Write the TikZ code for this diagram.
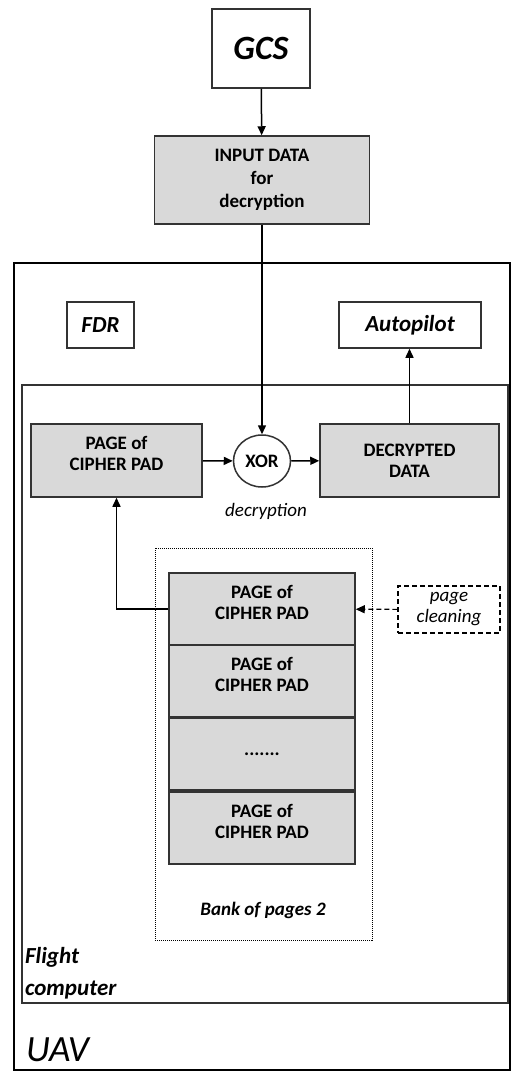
\documentclass[tikz,border=0pt]{standalone}
\usepackage{fontspec}
\setmainfont{Carlito}
\usetikzlibrary{arrows.meta,shapes.geometric}
\definecolor{boxgray}{HTML}{D9D9D9}
\definecolor{edge}{HTML}{333333}

\begin{document}
\begin{tikzpicture}[x=1pt,y=-1pt,line width=1.5pt,
        blk/.style={draw=edge, fill=boxgray, line width=1.5pt, align=center,
                        font=\bfseries\fontsize{19}{21}\selectfont},
        wht/.style={draw=edge, line width=1.5pt,
                        font=\bfseries\itshape\fontsize{23}{26}\selectfont},
        pg/.style={blk, minimum width=186, minimum height=72,
                        label={[font=\bfseries\fontsize{19}{21}\selectfont,
                        align=center, yshift=7]center:PAGE of\\CIPHER PAD}},
        arr/.style={-{Triangle[length=9pt,width=8pt]}},
        dsh/.style={dash pattern=on 5pt off 3pt, line width=1.2pt},
        tag/.style={anchor=west, font=\bfseries\itshape\fontsize{23}{26}\selectfont}]
    \useasboundingbox (0,0) rectangle (511,1071);

    % ground side
    \node[wht, minimum width=98, minimum height=79,
        font=\bfseries\itshape\fontsize{34}{38}\selectfont] (gcs) at (261,48.5) {GCS};
    \node[blk, minimum width=215, minimum height=88,
        font=\bfseries\fontsize{19}{23}\selectfont] (inp) at (262,180)
        {INPUT DATA\\for\\decryption};

    % UAV and flight computer
    \draw[line width=2.5pt] (14,263) rectangle (510,1070);
    \node[anchor=west, font=\itshape\fontsize{37}{40}\selectfont] (uav) at (22,1050) {UAV};
    \node[wht, minimum width=67, minimum height=46] (fdr) at (100.5,325) {FDR};
    \node[wht, minimum width=142, minimum height=46] (auto) at (410,325) {Autopilot};
    \draw[draw=edge, line width=1.5pt] (22,385) rectangle (508,1003);
    \node[tag] (fc1) at (21,957) {Flight};
    \node[tag] (fc2) at (21,990) {computer};

    % decryption
    \node[blk, minimum width=171, minimum height=73, label={[font=\bfseries\fontsize{19}{21}\selectfont,
        align=center, yshift=7]center:PAGE of\\CIPHER PAD}] (pad) at (116.5,460.5) {};
    \node[ellipse, draw=edge, line width=1.5pt, minimum width=57, minimum height=52,
        inner sep=0pt, font=\bfseries\fontsize{19}{21}\selectfont] (xor) at (262,461) {XOR};
    \node[blk, minimum width=179, minimum height=73] (dec) at (409.5,460.5) {DECRYPTED\\DATA};
    \node[font=\itshape\fontsize{19}{21}\selectfont] (decr) at (266,511) {decryption};

    % bank of pages
    \draw[dash pattern=on 1pt off 1pt, line width=1pt] (155,548) rectangle (372,940);
    \node[pg] (p1) at (262,609) {};
    \node[pg] (p2) at (262,681) {};
    \node[blk, minimum width=186, minimum height=72] (p3) at (262,754) {.......};
    \node[pg] (p4) at (262,828) {};
    \node[font=\bfseries\itshape\fontsize{19}{21}\selectfont] (bank) at (263,910) {Bank of pages 2};
    \node[draw=black, dsh, minimum width=102, minimum height=47, align=center,
        font=\itshape\fontsize{19}{21}\selectfont] (clean) at (449,609.5) {page\\cleaning};

    \draw[arr] (gcs) -- (inp);
    \draw[arr] (inp.south) -- (xor.north);
    \draw[arr] (pad) -- (xor);
    \draw[arr] (xor) -- (dec);
    \draw[arr] (dec.north) -- (dec.north |- auto.south);
    \draw[arr] (p1.west) -| (pad.south);
    \draw[arr, dsh] (clean) -- (p1);
\end{tikzpicture}
\end{document}
